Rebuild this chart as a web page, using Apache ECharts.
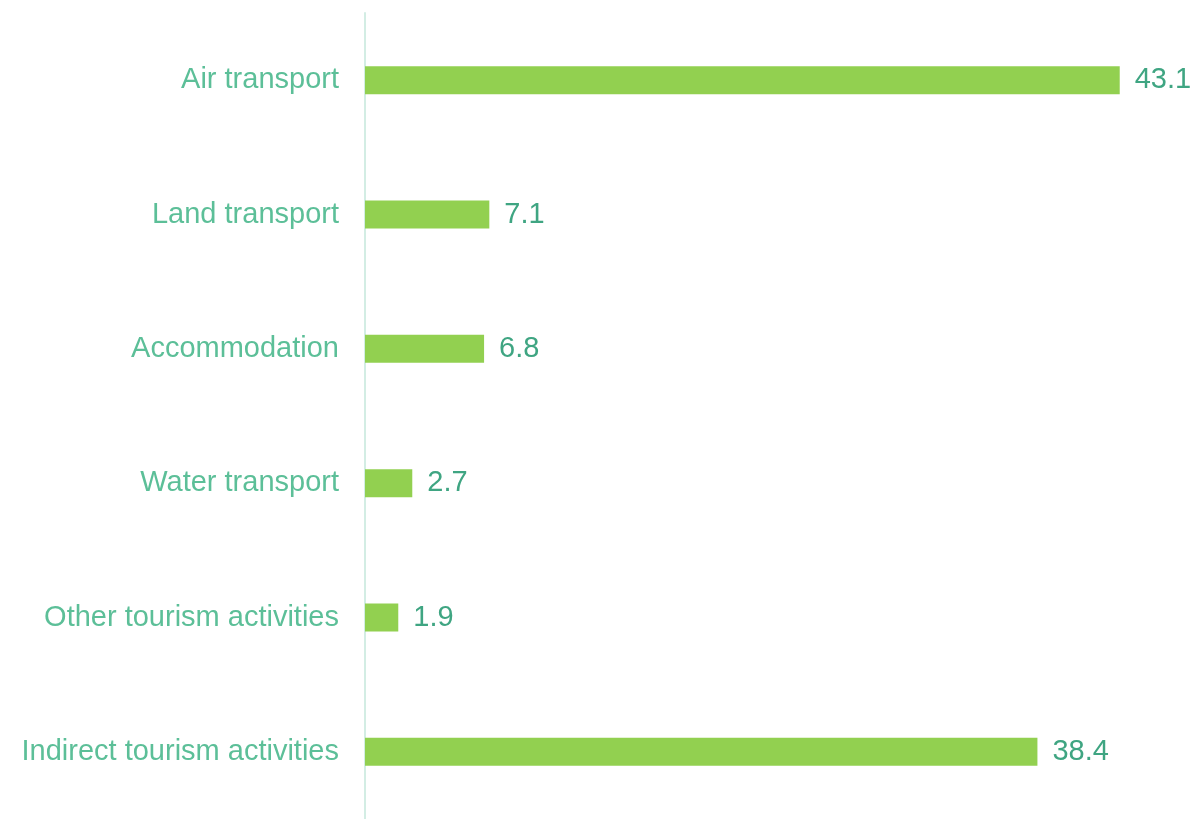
<!DOCTYPE html>
<html>
<head>
<meta charset="utf-8">
<script src="https://cdn.jsdelivr.net/npm/echarts@6/dist/echarts.min.js"></script>
<style>
  html, body { margin: 0; padding: 0; background: #fff; }
  #chart { width: 1194px; height: 819px; }
</style>
</head>
<body>
<div id="chart"></div>
<script>
// categories top -> bottom
const categories = [
  'Air transport',
  'Land transport',
  'Accommodation',
  'Water transport',
  'Other tourism activities',
  'Indirect tourism activities'
];
const values = [43.1, 7.1, 6.8, 2.7, 1.9, 38.4];

const FONT = '"Liberation Sans", Arial, sans-serif';

const chart = echarts.init(document.getElementById('chart'));

const option = {
  backgroundColor: '#fff',
  animation: false,
  grid: { left: 365, top: 13, width: 788, height: 807, containLabel: false },
  xAxis: {
    type: 'value',
    min: 0,
    max: 45,
    show: false
  },
  yAxis: {
    type: 'category',
    data: categories,
    inverse: true,
    axisLine: { show: true, lineStyle: { color: '#d3ede4', width: 2 } },
    axisTick: { show: false },
    axisLabel: {
      color: '#5cbf98',
      fontSize: 29,
      fontFamily: FONT,
      margin: 26
    }
  },
  series: [{
    type: 'bar',
    data: values,
    barWidth: 28,
    itemStyle: { color: '#92d050' },
    label: {
      show: true,
      position: 'right',
      distance: 15,
      color: '#3fa582',
      fontSize: 29,
      fontFamily: FONT,
      formatter: p => p.value.toFixed(1)
    }
  }]
};

chart.setOption(option);
</script>
</body>
</html>
